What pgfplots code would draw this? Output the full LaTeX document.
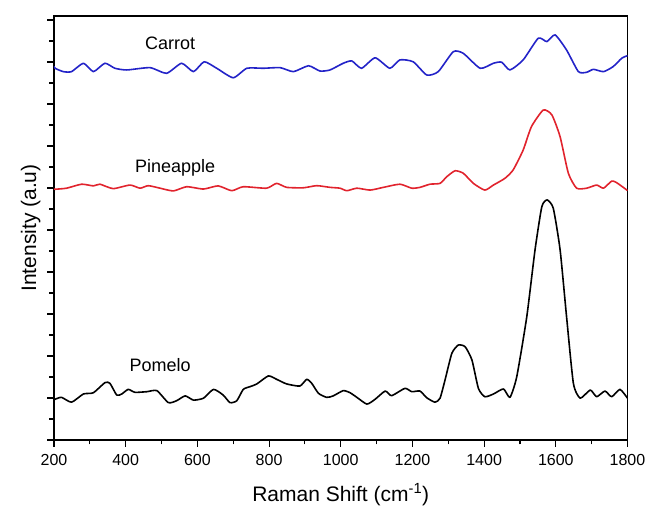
\documentclass[border=0pt]{standalone}
\usepackage{pgfplots}
\pgfplotsset{compat=1.18}
\usepackage{fontspec}
\setmainfont{Liberation Sans}
\definecolor{cblue}{RGB}{35,35,200}
\definecolor{cred}{RGB}{225,35,45}
\begin{document}
\begin{tikzpicture}
\begin{axis}[
  name=ax,
  scale only axis,
  width=573.5pt, height=424pt,
  xmin=200, xmax=1800, ymin=0, ymax=20.19,
  xtick={200,400,...,1800},
  minor xtick={300,500,...,1700},
  ytick={0,2,...,20},
  minor ytick={1,3,...,19},
  yticklabels={},
  tick align=outside,
  xtick pos=bottom, ytick pos=left,
  major tick length=7pt, minor tick length=4.5pt,
  every tick/.style={black, line width=1.1pt},
  axis line style={line width=1.2pt},
  /pgf/number format/assume math mode=true,
  /pgf/number format/1000 sep={},
  xticklabel style={font=\fontsize{16}{18}\selectfont, yshift=-4pt},
  xlabel={Raman Shift (cm\textsuperscript{-1})},
  ylabel={Intensity (a.u)},
  label style={font=\fontsize{21}{24}\selectfont},
  xlabel style={yshift=-11pt},
  ylabel style={yshift=-4pt},
  every axis plot/.append style={smooth, tension=0.35, line width=1.6pt, line join=round},
  clip=true,
]
\addplot[cblue] coordinates {
(200,17.80)(203,17.70)(226,17.54)(249,17.54)(282,17.94)(310,17.54)(342,17.94)(370,17.70)(403,17.62)(468,17.73)(514,17.46)(556,17.94)(589,17.54)(619,18.01)(654,17.70)(700,17.25)(738,17.70)(784,17.70)(831,17.73)(868,17.54)(910,17.82)(942,17.57)(970,17.62)(1007,17.94)(1031,18.05)(1058,17.70)(1096,18.20)(1137,17.70)(1165,18.10)(1202,18.01)(1240,17.38)(1272,17.54)(1314,18.49)(1342,18.41)(1389,17.70)(1426,17.94)(1449,17.99)(1472,17.62)(1509,18.10)(1551,19.13)(1575,18.97)(1598,19.29)(1630,18.57)(1663,17.54)(1686,17.51)(1705,17.65)(1733,17.54)(1760,17.78)(1784,18.18)(1800,18.30)
};
\addplot[cred] coordinates {
(200,11.95)(203,11.94)(235,11.99)(277,12.18)(310,12.10)(328,12.18)(365,11.97)(412,12.14)(440,11.99)(463,12.11)(496,11.99)(533,11.86)(570,12.06)(617,11.95)(658,12.10)(696,11.87)(728,12.06)(793,11.99)(821,12.22)(849,12.03)(896,12.01)(933,12.11)(970,12.03)(998,11.99)(1017,11.87)(1045,11.99)(1082,11.90)(1119,12.03)(1165,12.18)(1198,11.99)(1221,12.03)(1249,12.18)(1277,12.22)(1296,12.54)(1319,12.82)(1342,12.70)(1370,12.22)(1402,11.90)(1426,12.14)(1458,12.46)(1481,12.86)(1509,13.81)(1532,14.92)(1565,15.71)(1589,15.48)(1612,14.44)(1635,12.70)(1658,11.99)(1686,11.99)(1714,12.14)(1733,11.99)(1756,12.33)(1770,12.25)(1800,11.88)
};
\addplot[black] coordinates {
(200,1.92)(203,1.94)(221,2.03)(249,1.80)(282,2.19)(310,2.25)(342,2.73)(356,2.70)(375,2.14)(389,2.19)(407,2.41)(426,2.27)(459,2.30)(487,2.35)(519,1.78)(542,1.87)(566,2.10)(589,1.90)(617,1.99)(645,2.41)(672,2.14)(691,1.78)(710,1.87)(728,2.41)(747,2.54)(766,2.67)(798,3.05)(821,2.89)(849,2.67)(886,2.57)(905,2.89)(919,2.70)(938,2.22)(961,2.03)(979,2.10)(1007,2.35)(1026,2.25)(1045,2.03)(1073,1.71)(1096,1.94)(1124,2.33)(1142,2.11)(1179,2.46)(1198,2.30)(1221,2.33)(1240,2.01)(1263,1.80)(1277,1.99)(1291,2.86)(1310,4.13)(1328,4.52)(1347,4.44)(1366,3.81)(1384,2.46)(1402,2.06)(1426,2.19)(1454,2.43)(1472,2.03)(1491,3.01)(1519,5.87)(1542,9.05)(1561,11.11)(1576,11.43)(1593,11.03)(1612,9.05)(1630,5.87)(1649,2.70)(1668,1.99)(1696,2.38)(1714,2.06)(1737,2.33)(1756,2.06)(1779,2.41)(1800,1.99)
};
\node[font=\fontsize{18}{20}\selectfont] at (axis cs:524,18.9) {Carrot};
\node[font=\fontsize{18}{20}\selectfont] at (axis cs:538,12.95) {Pineapple};
\node[font=\fontsize{18}{20}\selectfont] at (axis cs:496,3.57) {Pomelo};
\end{axis}
\path[use as bounding box] (ax.south west) ++(-54pt,-70pt) rectangle ++(649pt,510pt);
\end{tikzpicture}
\end{document}
